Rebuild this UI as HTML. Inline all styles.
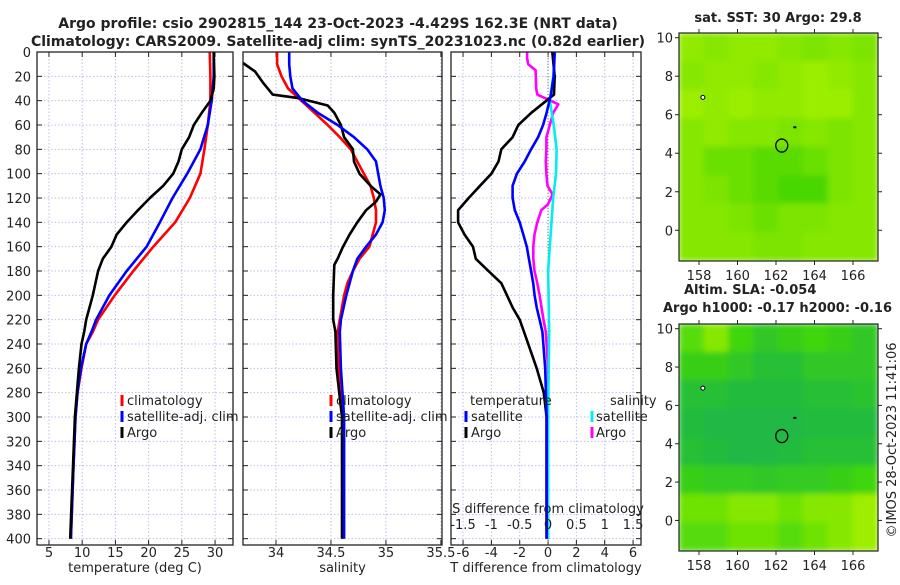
<!DOCTYPE html>
<html><head><meta charset="utf-8"><style>
body{margin:0;background:#fff}
svg text{font-family:"DejaVu Sans","Liberation Sans",sans-serif;fill:#222}
</style></head><body>
<svg id="s" width="900" height="580" viewBox="0 0 900 580" xmlns="http://www.w3.org/2000/svg">
<defs>
<filter id="bl" x="0" y="0" width="1" height="1"><feGaussianBlur stdDeviation="3" edgeMode="duplicate"/></filter>
<clipPath id="c1"><rect x="679" y="33" width="199" height="228"/></clipPath>
<clipPath id="c2"><rect x="679" y="324" width="199" height="227"/></clipPath>
</defs>
<text x="338" y="28" text-anchor="middle" font-weight="bold" font-size="14">Argo profile: csio 2902815_144 23-Oct-2023 -4.429S 162.3E (NRT data)</text>
<text x="338" y="46" text-anchor="middle" font-weight="bold" font-size="14">Climatology: CARS2009. Satellite-adj clim: synTS_20231023.nc (0.82d earlier)</text>
<text x="778" y="22" text-anchor="middle" font-weight="bold" font-size="13">sat. SST: 30 Argo: 29.8</text>
<text x="684" y="294" font-weight="bold" font-size="13">Altim. SLA: -0.054</text>
<text x="663" y="312" font-weight="bold" font-size="13">Argo h1000: -0.17 h2000: -0.16</text>
<text transform="translate(896,440) rotate(-90)" text-anchor="middle" font-size="13">©IMOS 28-Oct-2023 11:41:06</text>
<g id="g"></g>
</svg>
<script>
// ---- data (depth in m) ----
const tDepth=[0,20,40,60,80,100,120,140,160,180,200,220,230,240,260,280,300,340,400];
const tClim=[29.2,29.3,29.3,28.9,28.4,27.8,26.2,24.0,20.7,17.7,14.9,12.4,11.6,10.6,9.9,9.3,9.0,8.7,8.3];
const tSat=[29.8,29.8,29.5,28.9,27.8,25.8,23.6,21.7,19.7,16.7,14.1,12.1,11.4,10.6,9.8,9.3,9.0,8.7,8.3];
const argoDepthT=[0,20,30,40,50,60,70,80,90,100,110,120,130,140,150,160,170,180,200,220,230,240,260,300,400];
const tArgo=[29.8,29.9,29.8,29.3,28.0,26.8,26.1,25.0,24.5,23.7,22.2,20.2,18.4,16.7,15.2,14.4,13.1,12.4,11.6,10.6,10.3,9.9,9.5,8.9,8.2];
const sDepth=[0,10,20,30,40,50,60,70,80,90,100,110,120,130,140,150,160,170,180,190,200,220,230,260,300,400];
const sClim=[34.01,34.01,34.05,34.11,34.23,34.35,34.47,34.58,34.68,34.74,34.80,34.86,34.89,34.91,34.91,34.88,34.85,34.76,34.70,34.65,34.62,34.58,34.56,34.57,34.61,34.61];
const sSat=[34.12,34.12,34.13,34.15,34.24,34.38,34.56,34.71,34.83,34.91,34.93,34.95,34.98,34.99,34.97,34.91,34.82,34.74,34.70,34.67,34.64,34.59,34.58,34.59,34.62,34.62];
const argoDepthS=[9,16,25,35,38,44,50,60,70,80,90,100,110,117,123,130,140,150,160,170,175,200,220,230,260,300,400];
const sArgo=[33.70,33.81,33.88,33.97,34.21,34.47,34.53,34.59,34.62,34.70,34.71,34.76,34.86,34.95,34.91,34.82,34.74,34.67,34.61,34.56,34.53,34.52,34.52,34.54,34.55,34.60,34.60];
const dDepth=[0,20,35,40,50,60,70,80,90,100,110,120,130,140,150,160,170,180,190,200,210,220,230,260,280,300,400];
const dTArgo=[0.3,0.47,0.42,-0.12,-1.18,-2.1,-2.5,-3.3,-3.5,-4.0,-4.8,-5.6,-6.35,-6.35,-5.9,-5.3,-5.1,-4.2,-3.3,-2.9,-2.5,-2.0,-1.7,-0.8,-0.3,-0.1,-0.1];
const dTSat=[0.47,0.4,0.2,0.1,-0.1,-0.35,-0.7,-1.2,-1.65,-2.2,-2.5,-2.5,-2.35,-2.0,-1.75,-1.5,-1.35,-1.2,-1.05,-0.95,-0.8,-0.6,-0.4,-0.2,-0.15,-0.1,-0.1];
const dSDepth=[0,5,10,15,30,35,43,50,60,70,80,90,100,110,117,125,130,140,150,160,170,180,190,200,220,230,260,300,400];
const dSArgo=[-0.37,-0.37,-0.35,-0.22,-0.21,-0.19,0.18,0.09,0.03,-0.03,-0.03,-0.04,-0.03,-0.01,0.08,0.0,-0.12,-0.19,-0.24,-0.26,-0.26,-0.24,-0.19,-0.15,-0.08,-0.04,0,0,0];
const dSDepthSat=[0,20,40,60,80,100,120,140,160,180,200,230,300,400];
const dSSat=[0.12,0.09,0.03,0.10,0.15,0.14,0.09,0.06,0.03,0,0.01,0.02,0,0];
const depthTicks=[0,20,40,60,80,100,120,140,160,180,200,220,240,260,280,300,320,340,360,380,400];
const tTicks=[5,10,15,20,25,30];
const sTicks=[34,34.5,35,35.5];
const dTTicks=[-6,-4,-2,0,2,4,6];
const dSTicks=[-1.5,-1,-0.5,0,0.5,1,1.5];
const dSTickLabels=["-1.5","-1","-0.5","0","0.5","1","1.5"];
const mapLonTicks=[158,160,162,164,166];
const mapLatTicks=[0,2,4,6,8,10];
const sstGrid=[[.7,.6,.7,.7,.6,.5,.6,.5],[.6,.7,.7,.6,.7,.8,.7,.6],[.8,.7,.8,.7,.7,.8,.8,.6],[.6,.7,.6,.6,.5,.6,.5,.6],[.6,.4,.4,.3,.3,.4,.5,.6],[.6,.5,.4,.3,.2,.2,.5,.6],[.6,.6,.5,.4,.5,.5,.6,.6],[.6,.6,.6,.5,.5,.6,.6,.6]];
const slaGrid=[[.6,.8,.5,.3,.4,.5,.4,.3],[.4,.4,.3,.2,.2,.3,.3,.3],[.2,.2,.15,.15,.15,.2,.2,.25],[.15,.1,.1,.1,.1,.15,.15,.15],[.2,.15,.1,.1,.15,.2,.2,.2],[.4,.35,.35,.3,.35,.35,.4,.5],[.7,.7,.8,.8,.7,.8,.8,.9],[.6,.6,.7,.7,.6,.7,.8,.9]];
const argoLon=162.3, argoLat=4.4;

const NS="http://www.w3.org/2000/svg", G=document.getElementById('g');
function mk(t,a,p){const e=document.createElementNS(NS,t);for(const k in a)e.setAttribute(k,a[k]);(p||G).appendChild(e);return e;}
const Y0=52,Y1=545,yD=d=>Y0+d*1.2167;
function scale(x0,x1,d0,d1){return v=>x0+(v-d0)/(d1-d0)*(x1-x0);}
const P=[{x0:37,x1:233,f:scale(37,233,3.2,32.7),ticks:tTicks,lab:tTicks.map(String),title:"temperature (deg C)",n:'temperature'},
{x0:243,x1:442,f:scale(243,442,33.7,35.51),ticks:sTicks,lab:sTicks.map(String),title:"salinity",n:'salinity'},
{x0:451,x1:641,f:scale(451,641,-6.85,6.56),ticks:dTTicks,lab:dTTicks.map(String),title:"T difference from climatology",n:'difference'}];
P.forEach((p,i)=>{
  const g=mk('g',{});
  
  
  p.ticks.forEach(t=>{const x=p.f(t);
    mk('line',{x1:x,x2:x,y1:Y0,y2:Y1,stroke:'#b8c2e6','stroke-width':1,'stroke-dasharray':'1.5,2'},g);
    mk('line',{x1:x,x2:x,y1:Y0,y2:Y0+5,stroke:'#222'},g);
    mk('line',{x1:x,x2:x,y1:Y1,y2:Y1-5,stroke:'#222'},g);});
  p.ticks.forEach((t,j)=>{const e=mk('text',{x:p.f(t),y:557,'text-anchor':'middle','font-size':13},g);e.textContent=p.lab[j];
    
    });
  depthTicks.forEach(d=>{const y=yD(d);
    mk('line',{x1:p.x0,x2:p.x1,y1:y,y2:y,stroke:'#b8c2e6','stroke-width':1,'stroke-dasharray':'1.5,2'},g);
    mk('line',{x1:p.x0,x2:p.x0+5,y1:y,y2:y,stroke:'#222'},g);
    mk('line',{x1:p.x1,x2:p.x1-5,y1:y,y2:y,stroke:'#222'},g);
    if(i===0){const e=mk('text',{x:31,y:y+5,'text-anchor':'end','font-size':13},g);e.textContent=d;
      
      }});
  const t=mk('text',{x:(p.x0+p.x1)/2,y:572,'text-anchor':'middle','font-size':13},g);t.textContent=p.title;
  
  
  p.g=g;
});
function line(p,ds,vs,col,name,fx){
  const pts=ds.map((d,i)=>(fx?p.f(fx(vs[i])):p.f(vs[i])).toFixed(1)+','+yD(d).toFixed(1)).join(' ');
  const e=mk('polyline',{points:pts,fill:'none',stroke:col,'stroke-width':2.6,'stroke-linejoin':'round'},p.g);
  
  
}
line(P[0],tDepth,tClim,'#f00','temperature-climatology-line');
line(P[0],tDepth,tSat,'#00f','temperature-satellite-line');
line(P[0],argoDepthT,tArgo,'#000','temperature-argo-line');
line(P[1],sDepth,sClim,'#f00','salinity-climatology-line');
line(P[1],argoDepthS,sArgo,'#000','salinity-argo-line');
line(P[1],sDepth,sSat,'#00f','salinity-satellite-line');
mk('line',{x1:P[2].f(0),x2:P[2].f(0),y1:Y0,y2:Y1,stroke:'#777','stroke-dasharray':'1,2'},P[2].g);
line(P[2],dSDepth,dSArgo,'#f0f','salinity-diff-argo-line',v=>v*4);
line(P[2],dSDepthSat,dSSat,'#0ee','salinity-diff-satellite-line',v=>v*4);
line(P[2],dDepth,dTArgo,'#000','temperature-diff-argo-line');
line(P[2],dDepth,dTSat,'#00f','temperature-diff-satellite-line');
P.forEach(p=>{mk('rect',{x:p.x0,y:Y0,width:p.x1-p.x0,height:Y1-Y0,fill:'none',stroke:'#222','stroke-width':1.3},p.g);});
// S axis in panel 3
let e=mk('text',{x:548,y:513,'text-anchor':'middle','font-size':13});e.textContent='S difference from climatology';


dSTicks.forEach((s,i)=>{const t=mk('text',{x:P[2].f(s*4),y:529,'text-anchor':'middle','font-size':13});t.textContent=dSTickLabels[i];
  
  });
// legends
function leg(x,y,col,txt,mx){
  const g=mk('g',{});
  
  
  if(col)mk('line',{x1:mx,x2:mx,y1:y-10,y2:y+1,stroke:col,'stroke-width':3},g);
  const t=mk('text',{x:x,y:y,'font-size':13},g);t.textContent=txt;
}
[['#f00','climatology'],['#00f','satellite-adj. clim'],['#000','Argo']].forEach((l,i)=>{
  leg(127,405+16*i,l[0],l[1],122);leg(336,405+16*i,l[0],l[1],331);});
leg(470,405,null,'temperature');leg(471,421,'#00f','satellite',466);leg(471,437,'#000','Argo',466);
leg(610,405,null,'salinity');leg(596,421,'#0ee','satellite',592);leg(596,437,'#f0f','Argo',592);
// maps
function lerp(a,b,t){return a.map((v,i)=>Math.round(v+(b[i]-v)*t));}
function mapPanel(grid,top,bot,clip,cLo,cMid,cHi,name){
  const g=mk('g',{});
  
  
  const L=679,R=878,lonF=scale(L,R,156.96,167.3),latF=v=>top+4.7+(10-v)*((bot-top)/11.84);
  const gc=mk('g',{'clip-path':'url(#'+clip+')'},g);
  const gb=mk('g',{filter:'url(#bl)'},gc);
  mk('rect',{x:L,y:top,width:R-L,height:bot-top,fill:'rgb('+cMid+')'},gb);
  const nr=grid.length,nc=grid[0].length,cw=(R-L)/nc,ch=(bot-top)/nr;
  grid.forEach((row,r)=>row.forEach((v,c)=>{
    const col=v<0.5?lerp(cLo,cMid,v/0.5):lerp(cMid,cHi,(v-0.5)/0.5);
    const cell=mk('rect',{x:L+c*cw-0.5,y:top+r*ch-0.5,width:cw+1,height:ch+1,fill:'rgb('+col+')'},gb);
    
    
  }));
  mk('ellipse',{cx:lonF(argoLon),cy:latF(argoLat),rx:6,ry:6.5,fill:'none',stroke:'#000','stroke-width':1.3},gc);
  mk('circle',{cx:lonF(158.2),cy:latF(6.9),r:2,fill:'#fff',stroke:'#000'},gc);
  mk('rect',{x:lonF(162.9),y:latF(5.4),width:3,height:2,fill:'#000'},gc);
  mk('rect',{x:L,y:top,width:R-L,height:bot-top,fill:'none',stroke:'#222','stroke-width':1.2},g);
  mapLonTicks.forEach(t=>{const x=lonF(t);
    mk('line',{x1:x,x2:x,y1:bot,y2:bot+4,stroke:'#222'},g);mk('line',{x1:x,x2:x,y1:top,y2:top-4,stroke:'#222'},g);
    const tx=mk('text',{x:x,y:bot+19,'text-anchor':'middle','font-size':13},g);tx.textContent=t;
    
    });
  mapLatTicks.forEach(t=>{const y=latF(t);
    mk('line',{x1:L,x2:L-4,y1:y,y2:y,stroke:'#222'},g);mk('line',{x1:R,x2:R+4,y1:y,y2:y,stroke:'#222'},g);
    const tx=mk('text',{x:L-6,y:y+5,'text-anchor':'end','font-size':13},g);tx.textContent=t;
    
    });
}
mapPanel(sstGrid,33,261,'c1',[40,206,0],[124,228,0],[176,244,0],'sst-map');
mapPanel(slaGrid,324,551,'c2',[24,176,84],[64,214,10],[180,244,0],'sla-map');
</script>
</body></html>
